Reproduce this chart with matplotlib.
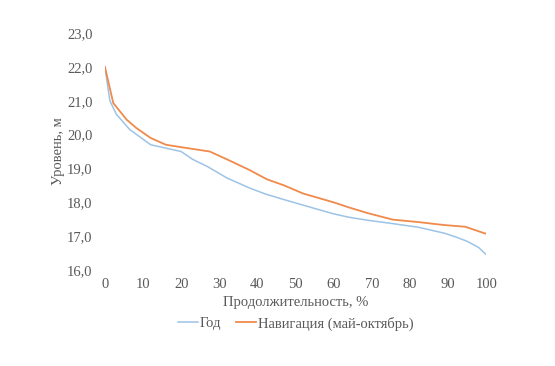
import matplotlib.pyplot as plt
from matplotlib.ticker import FuncFormatter

# duration, % / level, m
x_year = [0, 1.3, 3, 6.5, 12, 20, 23, 27, 32, 38, 42, 47, 55, 60, 64, 69, 75, 80, 82, 89, 92, 95, 98, 100]
y_year = [22.0, 21.0, 20.6, 20.15, 19.7, 19.5, 19.27, 19.05, 18.72, 18.42, 18.25, 18.08, 17.82, 17.66, 17.56, 17.47, 17.38, 17.3, 17.27, 17.09, 16.98, 16.85, 16.67, 16.46]

x_nav = [0, 2.2, 5.7, 8.3, 12, 16, 20.5, 27.5, 32, 38, 42.5, 47, 52, 60, 64, 69, 75.5, 82, 89, 94.5, 100]
y_nav = [22.0, 20.93, 20.44, 20.19, 19.9, 19.7, 19.62, 19.5, 19.27, 18.95, 18.68, 18.5, 18.26, 18.0, 17.85, 17.68, 17.49, 17.42, 17.33, 17.28, 17.07]

x_ticks = list(range(0, 101, 10))
y_ticks = list(range(16, 24))

plt.rcParams['font.family'] = ['Liberation Serif', 'DejaVu Serif']
text_color = '#595959'
fs = 10.5

fig = plt.figure(figsize=(5.55, 3.66), dpi=100)
ax = fig.add_axes([0.189, 0.262, 0.687, 0.648])

ax.plot(x_year, y_year, color='#9dc3e6', lw=1.1, label='Год')
ax.plot(x_nav, y_nav, color='#f08a4b', lw=1.3, label='Навигация (май-октябрь)')

ax.set_xlim(0, 100)
ax.set_ylim(16, 23)
ax.set_xticks(x_ticks)
ax.set_yticks(y_ticks)
ax.yaxis.set_major_formatter(FuncFormatter(lambda v, p: f'{v:.1f}'.replace('.', ',')))
ax.tick_params(length=0, labelsize=fs, colors=text_color, pad=9)
ax.tick_params(axis='x', pad=6)
for s in ax.spines.values():
    s.set_visible(False)

ax.set_xlabel('Продолжительность, %', fontsize=fs, color=text_color, labelpad=3)
ax.set_ylabel('Уровень, м', fontsize=fs, color=text_color, labelpad=1)

leg = ax.legend(loc='upper center', bbox_to_anchor=(0.5, -0.14), ncol=2, frameon=False,
                fontsize=fs, handlelength=1.4, handletextpad=0.1, columnspacing=1.0)
for t in leg.get_texts():
    t.set_color(text_color)

fig.savefig('out.png', dpi=100)
